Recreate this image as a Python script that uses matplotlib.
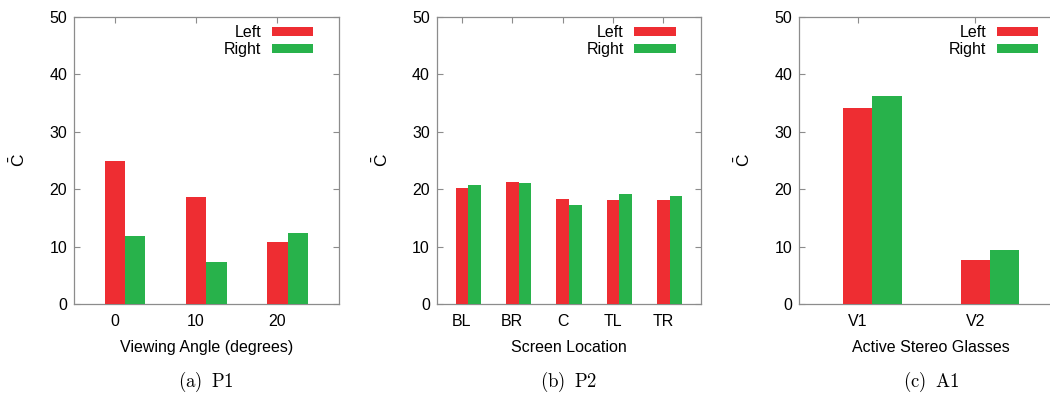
#!/usr/bin/env python3
"""
Three-panel clustered bar chart: mean C for left/right eye per condition.
"""
import matplotlib
matplotlib.use("Agg")
import matplotlib.pyplot as plt
from matplotlib.patches import Patch
import numpy as np

# (a) P1 - viewing angle
angle_cats = ["0", "10", "20"]
angle_left = [24.9, 18.7, 10.8]
angle_right = [11.9, 7.4, 12.3]

# (b) P2 - screen location
loc_cats = ["BL", "BR", "C", "TL", "TR"]
loc_left = [20.2, 21.3, 18.3, 18.2, 18.2]
loc_right = [20.8, 21.1, 17.2, 19.2, 18.9]

# (c) A1 - active stereo glasses
glass_cats = ["V1", "V2"]
glass_left = [34.2, 7.6]
glass_right = [36.3, 9.4]

xlabels = ["Viewing Angle (degrees)", "Screen Location", "Active Stereo Glasses"]
captions = [r"$\mathrm{(a)\;\;P1}$", r"$\mathrm{(b)\;\;P2}$", r"$\mathrm{(c)\;\;A1}$"]

RED = "#ee2d32"
GREEN = "#28b24b"
GRID = "#8c8c8c"
FS = 11.5

plt.rcParams["font.family"] = ["Liberation Sans", "DejaVu Sans"]
plt.rcParams["mathtext.fontset"] = "custom"
plt.rcParams["mathtext.rm"] = "Liberation Sans"

fig = plt.figure(figsize=(10.5, 3.94), dpi=100)

panels = [
    (angle_cats, angle_left, angle_right),
    (loc_cats, loc_left, loc_right),
    (glass_cats, glass_left, glass_right),
]
lefts = [74, 436.7, 799]
width_px = 264.5

for k, (cats, left, right) in enumerate(panels):
    ax = fig.add_axes([lefts[k] / 1050, 90 / 394, width_px / 1050, 287 / 394])
    x = np.arange(len(cats))
    w = 0.25
    ax.bar(x, left, width=w, color=RED, zorder=3)
    ax.bar(x + w, right, width=w, color=GREEN, zorder=3)
    ax.set_xlim(-0.5, len(cats) - 0.25)
    ax.set_ylim(0, 50)
    ax.set_yticks(range(0, 51, 10))
    ax.set_xticks(x)
    ax.set_xticklabels(cats)
    for s in ax.spines.values():
        s.set_color(GRID)
        s.set_linewidth(0.9)
    ax.tick_params(axis="y", direction="in", left=True, right=True, length=4,
                   color=GRID, labelsize=FS, pad=5)
    ax.tick_params(axis="x", direction="in", bottom=False, top=True, length=4,
                   color=GRID, labelsize=FS, pad=7)
    ax.set_xlabel(xlabels[k], fontsize=FS, labelpad=8)
    ax.set_ylabel(r"$\bar{\mathrm{C}}$", fontsize=FS + 1, labelpad=15)

    handles = [Patch(facecolor=RED, label="Left"), Patch(facecolor=GREEN, label="Right")]
    ax.legend(handles=handles, loc="upper right", frameon=False, markerfirst=False,
              fontsize=FS, handlelength=2.6, handleheight=0.5, handletextpad=0.65,
              labelspacing=0.12, borderaxespad=0.0,
              bbox_to_anchor=(1 - 19 / width_px, 1 - 2 / 287))

    fig.text((lefts[k] + 132) / 1050, 0.03, captions[k], ha="center", va="center",
             fontsize=13.5, math_fontfamily="cm")

fig.savefig("out.png", dpi=100)
